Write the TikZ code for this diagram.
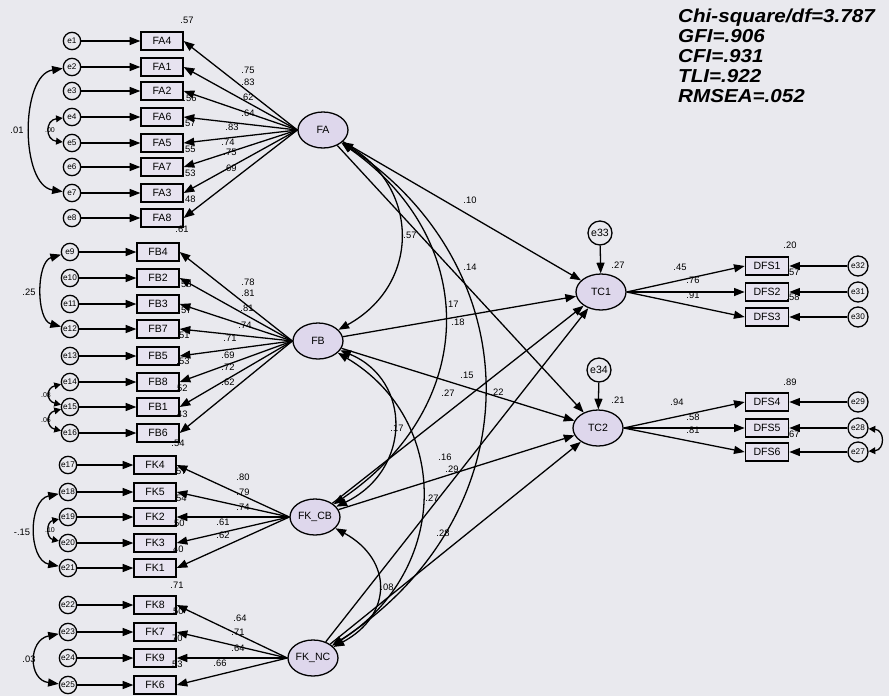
\documentclass[tikz,border=0pt]{standalone}
\usepackage{fontspec}
\setmainfont{Liberation Sans}
\newfontfamily\fitfont[FakeStretch=1.1]{Liberation Sans}
\usetikzlibrary{arrows.meta,positioning,shapes.geometric}
\definecolor{PaperGray}{RGB}{233,233,238}
\definecolor{BoxLilac}{RGB}{231,227,240}
\definecolor{LatentLilac}{RGB}{222,215,236}
\tikzset{
  obsbox/.style={draw=black,line width=1.1pt,fill=BoxLilac,minimum width=1.26cm,
    minimum height=0.54cm,inner sep=0pt,font=\fontsize{9}{10}\selectfont},
  dfsbox/.style={obsbox,minimum width=1.3cm},
  errcircle/.style={draw=black,line width=1.1pt,circle,fill=PaperGray,
    minimum size=0.52cm,inner sep=0pt,font=\fontsize{7}{8}\selectfont},
  distcircle/.style={errcircle,minimum size=0.72cm,font=\fontsize{9}{10}\selectfont},
  latent/.style={draw=black,line width=1.1pt,ellipse,fill=LatentLilac,
    minimum width=1.5cm,minimum height=1.08cm,inner sep=-1pt,font=\fontsize{9}{10}\selectfont},
  patharrow/.style={-{Triangle[length=3.2mm,width=2.4mm]},line width=1.1pt},
  covarrow/.style={{Triangle[length=3.2mm,width=2.4mm]}-{Triangle[length=3.2mm,width=2.4mm]},
    line width=1.1pt},
  smallcov/.style={{Triangle[length=2mm,width=2mm]}-{Triangle[length=2mm,width=2mm]},
    line width=1.1pt},
  estlabel/.style={font=\fontsize{8}{9}\selectfont,inner sep=0.5pt},
  tinylabel/.style={font=\fontsize{6}{7}\selectfont,inner sep=0.3pt},
  fitlabel/.style={font=\fitfont\fontsize{16}{16}\selectfont\bfseries\itshape,
    align=left,inner sep=0pt},
}

\begin{document}
\begin{tikzpicture}[x=0.03cm,y=-0.03cm]
  \fill[PaperGray] (0,0) rectangle (889,696);
  \useasboundingbox (0,0) rectangle (889,696);

  % latent factors
  \node[latent] (FA) at (323,130) {FA};
  \node[latent] (FB) at (318,341) {FB};
  \node[latent] (FKCB) at (315,517) {FK\_CB};
  \node[latent] (FKNC) at (313,658) {FK\_NC};
  \node[latent] (TC1) at (601,292) {TC1};
  \node[latent] (TC2) at (598,428) {TC2};
  \node[distcircle] (e33) at (600,233) {e33};
  \node[distcircle] (e34) at (599,370) {e34};

  % FA items
  \node[obsbox] (FA4) at (162,41) {FA4};
  \node[obsbox] (FA1) at (162,67) {FA1};
  \node[obsbox] (FA2) at (162,91) {FA2};
  \node[obsbox] (FA6) at (162,117) {FA6};
  \node[obsbox] (FA5) at (162,143) {FA5};
  \node[obsbox] (FA7) at (162,167) {FA7};
  \node[obsbox] (FA3) at (162,193) {FA3};
  \node[obsbox] (FA8) at (162,218) {FA8};
  \node[errcircle] (e1) at (72,41) {e1};
  \node[errcircle] (e2) at (72,67) {e2};
  \node[errcircle] (e3) at (72,91) {e3};
  \node[errcircle] (e4) at (72,117) {e4};
  \node[errcircle] (e5) at (72,143) {e5};
  \node[errcircle] (e6) at (72,167) {e6};
  \node[errcircle] (e7) at (72,193) {e7};
  \node[errcircle] (e8) at (72,218) {e8};

  % FB items
  \node[obsbox] (FB4) at (158,252) {FB4};
  \node[obsbox] (FB2) at (158,278) {FB2};
  \node[obsbox] (FB3) at (158,304) {FB3};
  \node[obsbox] (FB7) at (158,329) {FB7};
  \node[obsbox] (FB5) at (158,356) {FB5};
  \node[obsbox] (FB8) at (158,382) {FB8};
  \node[obsbox] (FB1) at (158,407) {FB1};
  \node[obsbox] (FB6) at (158,433) {FB6};
  \node[errcircle] (e9) at (70,252) {e9};
  \node[errcircle] (e10) at (70,278) {e10};
  \node[errcircle] (e11) at (70,304) {e11};
  \node[errcircle] (e12) at (70,329) {e12};
  \node[errcircle] (e13) at (70,356) {e13};
  \node[errcircle] (e14) at (70,382) {e14};
  \node[errcircle] (e15) at (70,407) {e15};
  \node[errcircle] (e16) at (70,433) {e16};

  % FK items
  \node[obsbox] (FK4) at (155,465) {FK4};
  \node[obsbox] (FK5) at (155,492) {FK5};
  \node[obsbox] (FK2) at (155,517) {FK2};
  \node[obsbox] (FK3) at (155,543) {FK3};
  \node[obsbox] (FK1) at (155,568) {FK1};
  \node[obsbox] (FK8) at (155,605) {FK8};
  \node[obsbox] (FK7) at (155,632) {FK7};
  \node[obsbox] (FK9) at (155,658) {FK9};
  \node[obsbox] (FK6) at (155,685) {FK6};
  \node[errcircle] (e17) at (68,465) {e17};
  \node[errcircle] (e18) at (68,492) {e18};
  \node[errcircle] (e19) at (68,517) {e19};
  \node[errcircle] (e20) at (68,543) {e20};
  \node[errcircle] (e21) at (68,568) {e21};
  \node[errcircle] (e22) at (68,605) {e22};
  \node[errcircle] (e23) at (68,632) {e23};
  \node[errcircle] (e24) at (68,658) {e24};
  \node[errcircle] (e25) at (68,685) {e25};

  % DFS items
  \node[dfsbox] (DFS1) at (767,266) {DFS1};
  \node[dfsbox] (DFS2) at (767,292) {DFS2};
  \node[dfsbox] (DFS3) at (767,317) {DFS3};
  \node[dfsbox] (DFS4) at (767,402) {DFS4};
  \node[dfsbox] (DFS5) at (767,428) {DFS5};
  \node[dfsbox] (DFS6) at (767,452) {DFS6};
  \node[errcircle,minimum size=0.6cm] (e32) at (858,266) {e32};
  \node[errcircle,minimum size=0.6cm] (e31) at (858,292) {e31};
  \node[errcircle,minimum size=0.6cm] (e30) at (858,317) {e30};
  \node[errcircle,minimum size=0.6cm] (e29) at (858,402) {e29};
  \node[errcircle,minimum size=0.6cm] (e28) at (858,428) {e28};
  \node[errcircle,minimum size=0.6cm] (e27) at (858,452) {e27};

  % error terms
  \draw[patharrow] (e1) -- (FA4.west);
  \draw[patharrow] (e2) -- (FA1.west);
  \draw[patharrow] (e3) -- (FA2.west);
  \draw[patharrow] (e4) -- (FA6.west);
  \draw[patharrow] (e5) -- (FA5.west);
  \draw[patharrow] (e6) -- (FA7.west);
  \draw[patharrow] (e7) -- (FA3.west);
  \draw[patharrow] (e8) -- (FA8.west);
  \draw[patharrow] (e9) -- (FB4.west);
  \draw[patharrow] (e10) -- (FB2.west);
  \draw[patharrow] (e11) -- (FB3.west);
  \draw[patharrow] (e12) -- (FB7.west);
  \draw[patharrow] (e13) -- (FB5.west);
  \draw[patharrow] (e14) -- (FB8.west);
  \draw[patharrow] (e15) -- (FB1.west);
  \draw[patharrow] (e16) -- (FB6.west);
  \draw[patharrow] (e17) -- (FK4.west);
  \draw[patharrow] (e18) -- (FK5.west);
  \draw[patharrow] (e19) -- (FK2.west);
  \draw[patharrow] (e20) -- (FK3.west);
  \draw[patharrow] (e21) -- (FK1.west);
  \draw[patharrow] (e22) -- (FK8.west);
  \draw[patharrow] (e23) -- (FK7.west);
  \draw[patharrow] (e24) -- (FK9.west);
  \draw[patharrow] (e25) -- (FK6.west);
  \draw[patharrow] (e32) -- (DFS1.east);
  \draw[patharrow] (e31) -- (DFS2.east);
  \draw[patharrow] (e30) -- (DFS3.east);
  \draw[patharrow] (e29) -- (DFS4.east);
  \draw[patharrow] (e28) -- (DFS5.east);
  \draw[patharrow] (e27) -- (DFS6.east);
  \draw[patharrow] (e33) -- (TC1);
  \draw[patharrow] (e34) -- (TC2);

  % loadings
  \draw[patharrow] (FA.west) -- (FA4.east);
  \draw[patharrow] (FA.west) -- (FA1.east);
  \draw[patharrow] (FA.west) -- (FA2.east);
  \draw[patharrow] (FA.west) -- (FA6.east);
  \draw[patharrow] (FA.west) -- (FA5.east);
  \draw[patharrow] (FA.west) -- (FA7.east);
  \draw[patharrow] (FA.west) -- (FA3.east);
  \draw[patharrow] (FA.west) -- (FA8.east);
  \draw[patharrow] (FB.west) -- (FB4.east);
  \draw[patharrow] (FB.west) -- (FB2.east);
  \draw[patharrow] (FB.west) -- (FB3.east);
  \draw[patharrow] (FB.west) -- (FB7.east);
  \draw[patharrow] (FB.west) -- (FB5.east);
  \draw[patharrow] (FB.west) -- (FB8.east);
  \draw[patharrow] (FB.west) -- (FB1.east);
  \draw[patharrow] (FB.west) -- (FB6.east);
  \draw[patharrow] (FKCB.west) -- (FK4.east);
  \draw[patharrow] (FKCB.west) -- (FK5.east);
  \draw[patharrow] (FKCB.west) -- (FK2.east);
  \draw[patharrow] (FKCB.west) -- (FK3.east);
  \draw[patharrow] (FKCB.west) -- (FK1.east);
  \draw[patharrow] (FKNC.west) -- (FK8.east);
  \draw[patharrow] (FKNC.west) -- (FK7.east);
  \draw[patharrow] (FKNC.west) -- (FK9.east);
  \draw[patharrow] (FKNC.west) -- (FK6.east);
  \draw[patharrow] (TC1.east) -- (DFS1.west);
  \draw[patharrow] (TC1.east) -- (DFS2.west);
  \draw[patharrow] (TC1.east) -- (DFS3.west);
  \draw[patharrow] (TC2.east) -- (DFS4.west);
  \draw[patharrow] (TC2.east) -- (DFS5.west);
  \draw[patharrow] (TC2.east) -- (DFS6.west);

  % structural paths
  \draw[patharrow] (FA) -- (TC1);
  \draw[patharrow] (FA) -- (TC2);
  \draw[patharrow] (FB) -- (TC1);
  \draw[patharrow] (FB) -- (TC2);
  \draw[patharrow] (FKCB) -- (TC1);
  \draw[patharrow] (FKCB) -- (TC2);
  \draw[patharrow] (FKNC) -- (TC1);
  \draw[patharrow] (FKNC) -- (TC2);

  % factor covariances
  \draw[covarrow] (FA) .. controls (420,190) and (420,285) .. (FB);
  \draw[covarrow] (FA) .. controls (480,240) and (480,405) .. (FKCB);
  \draw[covarrow] (FA) .. controls (533,270) and (533,515) .. (FKNC);
  \draw[covarrow] (FB) .. controls (412,380) and (412,470) .. (FKCB);
  \draw[covarrow] (FB) .. controls (451,420) and (451,570) .. (FKNC);
  \draw[covarrow] (FKCB) .. controls (393,560) and (393,615) .. (FKNC);

  % error covariances
  \draw[covarrow] (e2) .. controls (20,75) and (20,185) .. (e7);
  \draw[smallcov] (e4) .. controls (45,120) and (45,140) .. (e5);
  \draw[covarrow] (e9) .. controls (36,262) and (36,320) .. (e12);
  \draw[smallcov] (e14) .. controls (46,388) and (46,401) .. (e15);
  \draw[smallcov] (e15) .. controls (46,413) and (46,427) .. (e16);
  \draw[covarrow] (e18) .. controls (28,500) and (28,560) .. (e21);
  \draw[smallcov] (e19) .. controls (46,522) and (46,538) .. (e20);
  \draw[covarrow] (e23) .. controls (28,640) and (28,680) .. (e25);
  \draw[smallcov] (e28) .. controls (885,430) and (885,450) .. (e27);

  % estimates
  \node[estlabel] (wFA4) at (248,70) {.75};
  \node[estlabel] (wFA1) at (248,82) {.83};
  \node[estlabel] (wFA2) at (247,97) {.62};
  \node[estlabel] (wFA6) at (248,113) {.64};
  \node[estlabel] (wFA5) at (232,127) {.83};
  \node[estlabel] (wFA7) at (228,142) {.74};
  \node[estlabel] (wFA3) at (230,152) {.75};
  \node[estlabel] (wFA8) at (230,168) {.69};
  \node[estlabel] (wFB4) at (248,282) {.78};
  \node[estlabel] (wFB2) at (248,293) {.81};
  \node[estlabel] (wFB3) at (247,308) {.81};
  \node[estlabel] (wFB7) at (245,325) {.74};
  \node[estlabel] (wFB5) at (230,338) {.71};
  \node[estlabel] (wFB8) at (228,355) {.69};
  \node[estlabel] (wFB1) at (228,367) {.72};
  \node[estlabel] (wFB6) at (228,382) {.62};
  \node[estlabel] (wFK4) at (243,477) {.80};
  \node[estlabel] (wFK5) at (243,492) {.79};
  \node[estlabel] (wFK2) at (243,507) {.74};
  \node[estlabel] (wFK3) at (223,522) {.61};
  \node[estlabel] (wFK1) at (223,535) {.62};
  \node[estlabel] (wFK8) at (240,618) {.64};
  \node[estlabel] (wFK7) at (238,632) {.71};
  \node[estlabel] (wFK9) at (238,648) {.64};
  \node[estlabel] (wFK6) at (220,663) {.66};
  \node[estlabel] (rFA4) at (187,20) {.57};
  \node[estlabel] (rFA2) at (190,98) {.56};
  \node[estlabel] (rFA6) at (189,123) {.57};
  \node[estlabel] (rFA5) at (189,149) {.55};
  \node[estlabel] (rFA7) at (189,173) {.53};
  \node[estlabel] (rFA3) at (189,199) {.48};
  \node[estlabel] (rFA8) at (182,229) {.61};
  \node[estlabel] (rFB2) at (185,284) {.58};
  \node[estlabel] (rFB3) at (185,310) {.57};
  \node[estlabel] (rFB7) at (183,335) {.51};
  \node[estlabel] (rFB5) at (183,361) {.53};
  \node[estlabel] (rFB8) at (181,388) {.52};
  \node[estlabel] (rFB1) at (181,414) {.43};
  \node[estlabel] (rFB6) at (178,443) {.54};
  \node[estlabel] (rFK4) at (180,471) {.57};
  \node[estlabel] (rFK5) at (180,498) {.54};
  \node[estlabel] (rFK2) at (178,523) {.50};
  \node[estlabel] (rFK3) at (177,549) {.40};
  \node[estlabel] (rFK1) at (177,585) {.71};
  \node[estlabel] (rFK8) at (177,611) {.50};
  \node[estlabel] (rFK7) at (176,638) {.70};
  \node[estlabel] (rFK9) at (176,664) {.53};
  \node[estlabel] (rDFS1) at (790,245) {.20};
  \node[estlabel] (rDFS2) at (793,272) {.57};
  \node[estlabel] (rDFS3) at (793,297) {.58};
  \node[estlabel] (rDFS4) at (790,382) {.89};
  \node[estlabel] (rDFS6) at (793,434) {.67};
  \node[estlabel] (rTC1) at (618,265) {.27};
  \node[estlabel] (rTC2) at (618,400) {.21};
  \node[estlabel] (wDFS1) at (680,267) {.45};
  \node[estlabel] (wDFS2) at (693,280) {.76};
  \node[estlabel] (wDFS3) at (693,295) {.91};
  \node[estlabel] (wDFS4) at (677,402) {.94};
  \node[estlabel] (wDFS5) at (693,417) {.58};
  \node[estlabel] (wDFS6) at (693,430) {.81};
  \node[estlabel] (bFATC1) at (470,200) {.10};
  \node[estlabel] (cFAFB) at (410,235) {.57};
  \node[estlabel] (bFATC2) at (470,267) {.14};
  \node[estlabel] (cFAFKCB) at (452,304) {.17};
  \node[estlabel] (bFBTC1) at (458,322) {.18};
  \node[estlabel] (bFBTC2) at (467,375) {.15};
  \node[estlabel] (cFAFKNC) at (497,392) {.22};
  \node[estlabel] (bFKCBTC1) at (448,393) {.27};
  \node[estlabel] (cFBFKCB) at (397,428) {.17};
  \node[estlabel] (bFKCBTC2) at (445,457) {.16};
  \node[estlabel] (bFKNCTC1) at (452,469) {.29};
  \node[estlabel] (cFBFKNC) at (432,498) {.27};
  \node[estlabel] (bFKNCTC2) at (443,533) {.28};
  \node[estlabel] (cFKCBFKNC) at (387,587) {.08};
  \node[estlabel] (ce2e7) at (17,130) {.01};
  \node[tinylabel] (ce4e5) at (50,130) {.00};
  \node[estlabel] (ce9e12) at (29,292) {.25};
  \node[tinylabel] (ce14e15) at (46,395) {.08};
  \node[tinylabel] (ce15e16) at (46,420) {.06};
  \node[estlabel] (ce18e21) at (22,532) {-.15};
  \node[tinylabel] (ce19e20) at (50,530) {.10};
  \node[estlabel] (ce23e25) at (29,659) {.03};

  % fit indices
  \node[fitlabel,anchor=north west] (fit) at (678,9)
    {Chi-square/df=3.787\\[1pt]GFI=.906\\[1pt]CFI=.931\\[1pt]TLI=.922\\[1pt]RMSEA=.052};
\end{tikzpicture}
\end{document}
